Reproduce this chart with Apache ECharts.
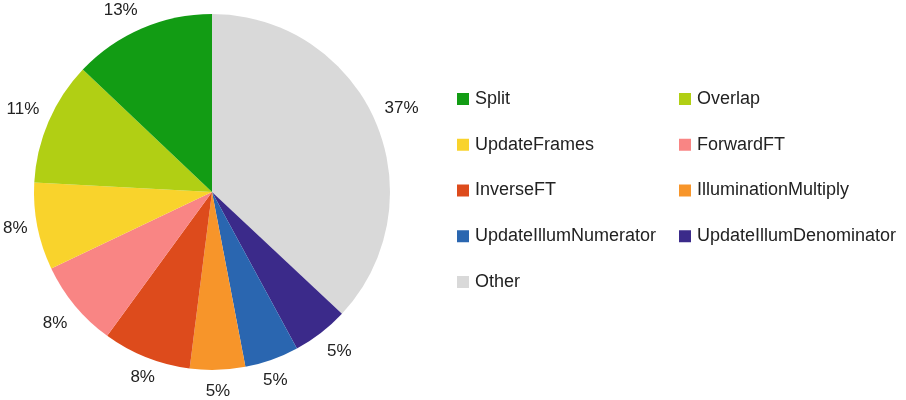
<!DOCTYPE html>
<html>
<head>
<meta charset="utf-8">
<script src="https://cdn.jsdelivr.net/npm/echarts@6/dist/echarts.min.js"></script>
<style>
  html, body { margin: 0; padding: 0; background: #fff; }
  #chart { width: 906px; height: 400px; }
</style>
</head>
<body>
<div id="chart"></div>
<script>
// slices in clockwise order from 12 o'clock
const names = ['Other', 'UpdateIllumDenominator', 'UpdateIllumNumerator', 'IlluminationMultiply',
  'InverseFT', 'ForwardFT', 'UpdateFrames', 'Overlap', 'Split']
const values = [36.9, 5.1, 4.9, 5.0, 8.0, 7.9, 7.9, 11.2, 12.9]
const colors = ['#d9d9d9', '#3b2a8a', '#2a66b0', '#f7952a', '#dd4b1c', '#f98584', '#f9d32c', '#b1cf14', '#129c14']

const legendLeft = ['Split', 'UpdateFrames', 'InverseFT', 'UpdateIllumNumerator', 'Other']
const legendRight = ['Overlap', 'ForwardFT', 'IlluminationMultiply', 'UpdateIllumDenominator']

const LABEL_FONT = '17px "Liberation Sans"'

const total = values.reduce((a, b) => a + b, 0)
const measure = document.createElement('canvas').getContext('2d')
measure.font = LABEL_FONT
const pct = v => Math.round(v / total * 100) + '%'

// office-style outside labels: the text box sits against the anchor point,
// aligned by which 45deg sector the slice bisector falls in
let acc = 0
const labelData = names.map((n, i) => {
  const mid = (acc + values[i] / 2) / total * 2 * Math.PI
  acc += values[i]
  const sx = Math.sin(mid), sy = -Math.cos(mid)
  const lim = Math.sin(Math.PI / 8)
  const w = measure.measureText(pct(values[i])).width
  const hx = Math.abs(sx) < lim ? 0 : Math.sign(sx)
  const vy = Math.abs(sy) < lim ? 0 : Math.sign(sy)
  return {
    name: n, value: values[i], vy,
    label: { padding: [0, hx < 0 ? w : 0, 0, hx > 0 ? w : 0] }
  }
})

const legendBase = {
  orient: 'vertical',
  top: 90,
  padding: 0,
  itemGap: 27.75,
  itemWidth: 12,
  itemHeight: 12,
  icon: 'rect',
  selectedMode: false,
  textStyle: { fontFamily: 'Liberation Sans', fontSize: 18, color: '#222', padding: [0, 0, 0, 1] }
}

const chart = echarts.init(document.getElementById('chart'))
chart.setOption({
  animation: false,
  legend: [
    { ...legendBase, left: 457, data: legendLeft },
    { ...legendBase, left: 679, data: legendRight }
  ],
  series: [
    {
      type: 'pie',
      center: [212, 192],
      radius: [0, 178],
      startAngle: 90,
      clockwise: true,
      data: names.map((n, i) => ({ name: n, value: values[i], itemStyle: { color: colors[i] } })),
      label: { show: false },
      labelLine: { show: false },
      silent: true
    },
    {
      // thin transparent ring that only carries the percentage labels
      type: 'pie',
      center: [212, 192],
      radius: [184, 186],
      startAngle: 90,
      clockwise: true,
      silent: true,
      data: labelData,
      itemStyle: { color: 'rgba(0,0,0,0)' },
      label: {
        show: true,
        position: 'inside',
        formatter: p => {
          const t = '{t|' + pct(p.value) + '}'
          return p.data.vy > 0 ? '{dn| }\n' + t : p.data.vy < 0 ? t + '\n{up| }' : t
        },
        fontFamily: 'Liberation Sans',
        fontSize: 17,
        color: '#222',
        rich: {
          t: { fontFamily: 'Liberation Sans', fontSize: 17, lineHeight: 17, color: '#222' },
          up: { fontSize: 17, lineHeight: 17 },
          dn: { fontSize: 17, lineHeight: 22 }
        }
      },
      labelLine: { show: false }
    }
  ]
})
</script>
</body>
</html>
